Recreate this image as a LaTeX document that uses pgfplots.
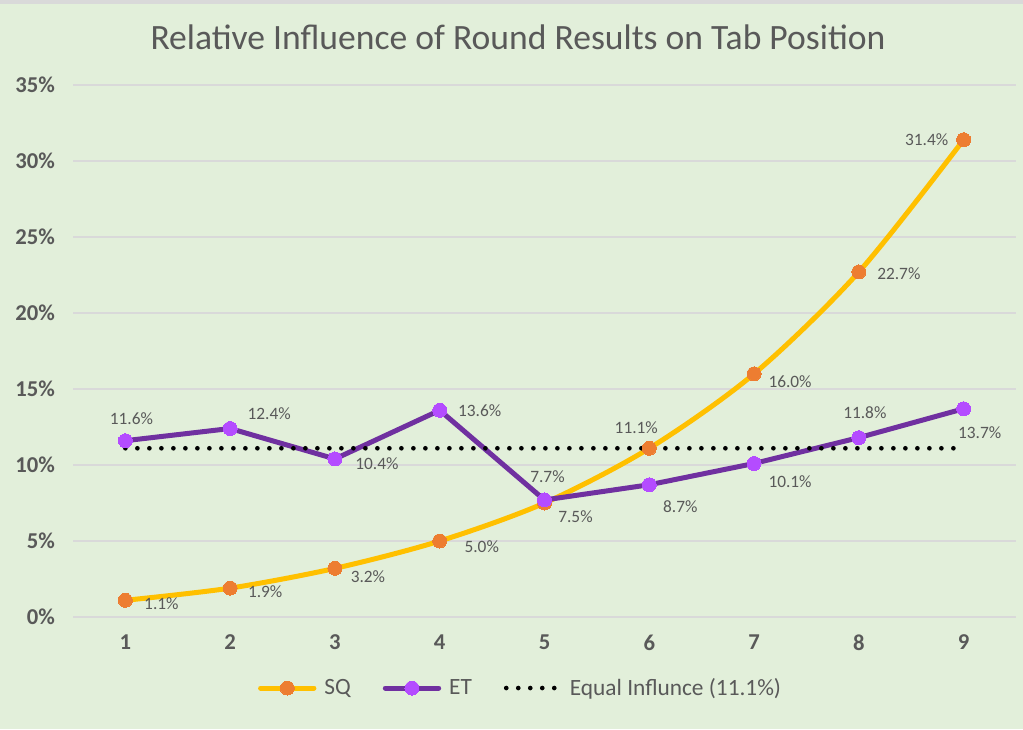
\documentclass[border=0pt]{standalone}
\usepackage{fontspec}
\setmainfont{Carlito}
\usepackage{pgfplots}
\usepackage{pgfplotstable}
\pgfplotsset{compat=1.18}

\definecolor{bg}{HTML}{E2EFDA}
\definecolor{gridc}{HTML}{D9D9D9}
\definecolor{txt}{HTML}{595959}
\definecolor{sqline}{HTML}{FFC000}
\definecolor{sqmark}{HTML}{ED7D31}
\definecolor{etline}{HTML}{7030A0}
\definecolor{etmark}{HTML}{B44CFF}

% values in %, label offsets in pt
\pgfplotstableread{
x sq   sqdx   sqdy   et   etdx  etdy   eq
1 1.1  27     -2.25  11.6 4.5   16.5   11.1
2 1.9  26.25  -3     12.4 29.25 11.25  11.1
3 3.2  24.75  -6     10.4 31.5  -3.75  11.1
4 5.0  31.5   -4.5   13.6 30    0      11.1
5 7.5  23.25  -10.5  7.7  2.25  17.25  11.1
6 11.1 -9.75  15.75  8.7  23.25 -16.5  11.1
7 16.0 27     -6     10.1 27    -13.5  11.1
8 22.7 30     -1.5   11.8 4.5   18.75  11.1
9 31.4 -27.75 0      13.7 12    -18    11.1
}\datatab

\begin{document}
\begin{tikzpicture}
\fill[bg] (0,0) rectangle (767.25pt,546.75pt);
\fill[gridc] (0,544pt) rectangle (767.25pt,546.75pt);
\node[font=\fontsize{26.7}{30}\selectfont, text=txt] at (388.5pt,519pt)
  {Relative Influence of Round Results on Tab Position};

\begin{axis}[
    at={(54.75pt,84pt)}, anchor=south west,
    scale only axis, width=707.25pt, height=399pt,
    xmin=0.5, xmax=9.5, ymin=0, ymax=35,
    xtick={1,...,9}, ytick={0,5,...,35},
    axis line style={draw=none},
    major tick length=0pt,
    ymajorgrids, grid style={gridc, line width=1.5pt},
    /pgf/number format/assume math mode=true,
    ticklabel style={font=\fontsize{17}{20}\selectfont\bfseries, text=txt},
    yticklabel={\pgfmathprintnumber{\tick}\%},
    yticklabel style={xshift=-10pt},
    xticklabel style={yshift=-10pt},
    clip=false,
    legend columns=3,
    legend style={at={(0.475,-0.1335)}, anchor=center, draw=none, fill=none,
      font=\fontsize{17.5}{20}\selectfont, text=txt,
      /tikz/every odd column/.append style={column sep=4pt},
      /tikz/every even column/.append style={column sep=22pt}},
    legend image code/.code={\draw[mark repeat=2,mark phase=2,#1]
      plot coordinates {(0pt,0pt) (20pt,0pt) (40pt,0pt)};},
]

% SQ
\addplot[sqline, line width=3.75pt, smooth, line cap=round,
    mark=*, mark size=5.25pt, mark options={solid, fill=sqmark, draw=sqmark, line width=0pt},
    visualization depends on={\thisrow{sqdx}\as\ldx},
    visualization depends on={\thisrow{sqdy}\as\ldy},
    nodes near coords={\pgfmathprintnumber[fixed,fixed zerofill,precision=1]{\pgfplotspointmeta}\%},
    nodes near coords style={anchor=center, xshift=\ldx pt, yshift=\ldy pt,
      font=\fontsize{13}{15}\selectfont, text=txt},
] table[x=x, y=sq] {\datatab};

% ET
\addplot[etline, line width=3.75pt, line cap=round,
    mark=*, mark size=5.25pt, mark options={solid, fill=etmark, draw=etmark, line width=0pt},
    visualization depends on={\thisrow{etdx}\as\ldx},
    visualization depends on={\thisrow{etdy}\as\ldy},
    nodes near coords={\pgfmathprintnumber[fixed,fixed zerofill,precision=1]{\pgfplotspointmeta}\%},
    nodes near coords style={anchor=center, xshift=\ldx pt, yshift=\ldy pt,
      font=\fontsize{13}{15}\selectfont, text=txt},
] table[x=x, y=et] {\datatab};

% equal influence
\addplot[black, line width=3.5pt, line cap=round, dash pattern=on 0pt off 9pt]
  table[x=x, y=eq] {\datatab};

\legend{SQ, ET, Equal Influnce (11.1\%)}
\end{axis}

\pgfresetboundingbox
\useasboundingbox (0,0) rectangle (767.25pt,546.75pt);
\end{tikzpicture}
\end{document}
